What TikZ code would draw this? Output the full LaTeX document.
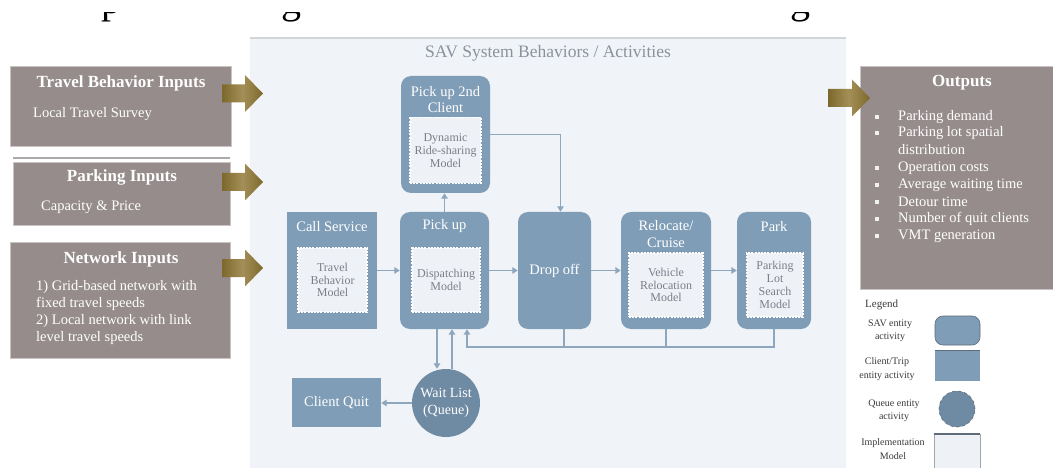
\documentclass[tikz,border=0pt]{standalone}
\usepackage{fontspec}
\setmainfont{Liberation Serif}
\usetikzlibrary{arrows.meta}

\definecolor{taupe}{HTML}{968C8C}
\definecolor{taupeedge}{HTML}{C9C3C3}
\definecolor{savblue}{HTML}{7F9DB7}
\definecolor{queueblue}{HTML}{6F8AA3}
\definecolor{panelbg}{HTML}{F0F4F8}
\definecolor{panelline}{HTML}{D2D5D8}
\definecolor{innerbg}{HTML}{EEF2F6}
\definecolor{connc}{HTML}{8EA7BE}
\definecolor{goldA}{HTML}{7C682C}
\definecolor{goldB}{HTML}{A58F58}
\definecolor{titlegray}{HTML}{8A929D}
\definecolor{innertext}{HTML}{7C7E8A}
\definecolor{legendtext}{HTML}{3A3A3A}
\definecolor{legendedge}{HTML}{5E6B78}

\newcommand\fs[2]{\fontsize{#1}{#2}\selectfont}
% block arrow: left end x, centre y, total length
\newcommand\blockarrow[3]{%
  \path[left color=goldA, right color=goldA, middle color=goldB]
    (#1,#2-9) -- ++(#3-18,0) -- ++(0,-9.5) -- (#1+#3,#2) -- (#1+#3-18,#2+18.5)
    -- ++(0,-9.5) -- (#1,#2+9) -- cycle;}

\begin{document}
\begin{tikzpicture}[x=1pt,y=-1pt,
  every node/.style={inner sep=0pt},
  inbox/.style={fill=taupe, draw=taupeedge, line width=0.8pt},
  intitle/.style={text=white, font=\bfseries\fs{17}{19}},
  intext/.style={text=white, font=\fs{14.5}{17}, align=left},
  savbox/.style={fill=savblue, rounded corners=10pt, minimum height=117pt},
  tripbox/.style={fill=savblue},
  boxtitle/.style={text=white, font=\fs{14.5}{15.5}, align=center},
  model/.style={fill=innerbg, draw=white, line width=1.3pt,
    dash pattern=on 2pt off 1.2pt, text=innertext, font=\fs{12}{12.8}, align=center},
  conn/.style={draw=connc, line width=1.5pt, -{Triangle[width=6.5pt,length=5.5pt]}},
  link/.style={draw=connc, line width=1.5pt},
  legtext/.style={text=legendtext, font=\fs{10}{13.5}, align=center},
  bulletsq/.style={fill=white!88!taupe, minimum size=4pt}
]
\useasboundingbox (0,0) rectangle (1053,468);
\fill[white] (0,0) rectangle (1053,468);

% descenders of the heading line above, cut by the page edge
\begin{scope}
  \clip (0,13) rectangle (1053,30);
  \node[anchor=base west, font=\fs{40}{40}] (headp) at (101,14) {p};
  \node[anchor=base west, font=\fs{40}{40}] (headg) at (281,14) {g};
  \node[anchor=base west, font=\fs{40}{40}] (headgg) at (790,14) {g};
\end{scope}

% system panel
\fill[panelbg] (250,38) rectangle (846,468);
\draw[panelline, line width=2pt] (250,38) -- (846,38);
\node[text=titlegray, font=\fs{17.5}{19}] (paneltitle) at (548,53) {SAV System Behaviors / Activities};

% ---------- inputs ----------
\node[inbox, minimum width=221pt, minimum height=80pt] (tbin) at (120.5,106) {};
\node[intitle] (tbtitle) at (121,83) {Travel Behavior Inputs};
\node[intext, anchor=west] (tbtext) at (33,114) {Local Travel Survey};

\draw[draw=taupe!80!black!60, line width=2pt] (13,158) -- (230,158);
\node[inbox, minimum width=217pt, minimum height=63pt] (pkin) at (121.5,193.5) {};
\node[intitle] (pktitle) at (122,177.5) {Parking Inputs};
\node[intext, anchor=west] (pktext) at (41,207) {Capacity \& Price};

\node[inbox, minimum width=220pt, minimum height=116pt] (nwin) at (120,300) {};
\node[intitle] (nwtitle) at (121,259) {Network Inputs};
\node[intext, anchor=west] (nwtext) at (36,312.5)
  {1) Grid-based network with\\fixed travel speeds\\2) Local network with link\\level travel speeds};

\blockarrow{222}{93.5}{41}
\blockarrow{222}{182}{41}
\blockarrow{222}{268}{41}

% ---------- outputs ----------
\node[inbox, minimum width=193pt, minimum height=223pt] (outbox) at (956.5,177.5) {};
\node[intitle] (outtitle) at (962,83) {Outputs};
\foreach \yy/\txt/\bl [count=\i] in {117/Parking demand/1, 133/Parking lot spatial/1,
    150/distribution/0, 168/Operation costs/1, 185/Average waiting time/1,
    202/Detour time/1, 219/Number of quit clients/1, 236/VMT generation/1}{
  \node[intext, anchor=west] (out\i) at (898,\yy) {\txt};
  \ifnum\bl=1 \node[bulletsq] (bul\i) at (877,\yy) {};\fi
}
\blockarrow{828}{98}{42}

% ---------- activities ----------
\node[savbox, minimum width=89pt] (pick2) at (445.5,134.5) {};
\node[boxtitle] (pick2title) at (445.5,99.5) {Pick up 2nd\\Client};
\node[model, minimum width=71pt, minimum height=66pt] (ridemodel) at (445.5,150.5)
  {Dynamic\\Ride-sharing\\Model};

\node[tripbox, minimum width=90pt, minimum height=117pt] (callsvc) at (332,270.5) {};
\node[boxtitle] (calltitle) at (332,226.5) {Call Service};
\node[model, minimum width=69pt, minimum height=64pt] (travelmodel) at (332.5,280)
  {Travel\\Behavior\\Model};

\node[savbox, minimum width=89pt] (pickup) at (444.5,270.5) {};
\node[boxtitle] (pickuptitle) at (444.5,226.5) {Pick up};
\node[model, minimum width=68pt, minimum height=64pt] (dispatch) at (446,280)
  {Dispatching\\Model};

\node[savbox, minimum width=73pt, text=white, font=\fs{14.5}{16}] (dropoff) at (554.5,270.5) {Drop off};

\node[savbox, minimum width=90pt] (relocate) at (666,270.5) {};
\node[boxtitle, font=\fs{14.5}{17}] (reloctitle) at (666,234.5) {Relocate/\\Cruise};
\node[model, minimum width=74pt, minimum height=64pt] (relocmodel) at (666,285)
  {Vehicle\\Relocation\\Model};

\node[savbox, minimum width=74pt] (park) at (774,270.5) {};
\node[boxtitle] (parktitle) at (774,226.5) {Park};
\node[model, minimum width=56pt, minimum height=64pt] (parkmodel) at (775,285)
  {Parking\\Lot\\Search\\Model};

\node[tripbox, minimum width=89pt, minimum height=49pt, text=white, font=\fs{14.5}{16}]
  (clientquit) at (336.5,402.5) {Client Quit};
\node[circle, fill=queueblue, minimum size=68pt, text=white, font=\fs{14}{17.5}, align=center]
  (waitlist) at (446,403) {Wait List\\(Queue)};

% ---------- connectors ----------
\draw[conn] (callsvc.east) -- (pickup.west);
\draw[conn] (pickup.east) -- (dropoff.west);
\draw[conn] (dropoff.east) -- (relocate.west);
\draw[conn] (relocate.east) -- (park.west);
\draw[conn] (pickup.north) -- (pickup.north |- pick2.south);
\draw[conn] (pick2.east) -| ([xshift=6pt]dropoff.north);
\draw[conn] ([xshift=-7.5pt]pickup.south) -- ([xshift=-7.5pt]pickup.south |- waitlist.north);
\draw[conn] ([xshift=6pt]waitlist.north) -- ([xshift=6pt]waitlist.north |- pickup.south);
\draw[conn] (waitlist.west) -- (waitlist.west -| clientquit.east);

\coordinate (busend) at (467,347);
\draw[conn] (park.south) |- (busend) -- (busend |- pickup.south);
\draw[link] (relocate.south) -- (relocate.south |- busend);
\draw[link] ([xshift=9.5pt]dropoff.south) -- ([xshift=9.5pt]dropoff.south |- busend);

% ---------- legend ----------
\node[text=legendtext, font=\fs{11}{13}, anchor=west] (legtitle) at (865,305) {Legend};
\node[legtext] (leg1t) at (890,331) {SAV entity\\activity};
\node[fill=savblue, draw=legendedge, line width=0.6pt, rounded corners=8pt,
  minimum width=45pt, minimum height=29pt] (leg1) at (957.5,330.5) {};
\node[legtext] (leg2t) at (887,369) {Client/Trip\\entity activity};
\node[fill=savblue, minimum width=45pt, minimum height=30pt] (leg2) at (957.5,366) {};
\draw[legendedge, line width=1.2pt] (leg2.north west) -- (leg2.north east);
\node[legtext] (leg3t) at (894,411) {Queue entity\\activity};
\node[circle, fill=queueblue, draw=legendedge, line width=0.6pt, dashed, minimum size=36pt] (leg3) at (957,409) {};
\node[legtext] (leg4t) at (893,449) {Implementation\\Model};
\node[fill=innerbg, draw=legendedge!60, line width=0.8pt, minimum width=46pt, minimum height=40pt,
  anchor=north] (leg4) at (957,434) {};
\draw[legendedge, line width=1.5pt] (leg4.north west) -- (leg4.north east);
\end{tikzpicture}
\end{document}
